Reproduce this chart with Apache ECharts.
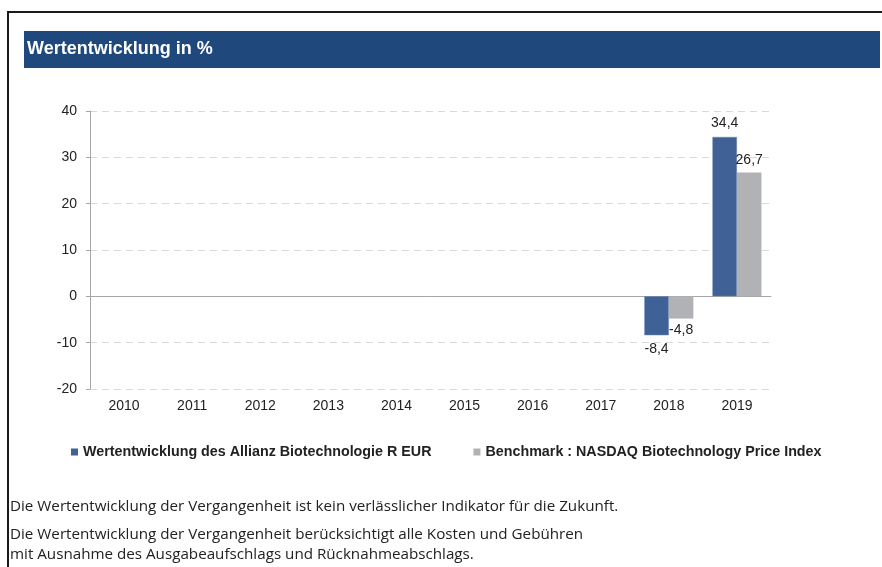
<!DOCTYPE html>
<html>
<head>
<meta charset="utf-8">
<script src="https://cdn.jsdelivr.net/npm/echarts@6/dist/echarts.min.js"></script>
<style>
  html, body { margin: 0; padding: 0; background: #fff; }
  #box { width: 882px; height: 567px; }
</style>
</head>
<body>
<div id="box"></div>
<script>
var myChart = echarts.init(document.getElementById("box"));

// Jahre und Werte (in %)
var years = ['2010', '2011', '2012', '2013', '2014', '2015', '2016', '2017', '2018', '2019'];
var fundValues = [null, null, null, null, null, null, null, null, -8.4, 34.4];
var benchValues = [null, null, null, null, null, null, null, null, -4.8, 26.7];
var fundName = 'Wertentwicklung des Allianz Biotechnologie R EUR';
var benchName = 'Benchmark : NASDAQ Biotechnology Price Index';
var footLines = [
  'Die Wertentwicklung der Vergangenheit ist kein verlässlicher Indikator für die Zukunft.',
  'Die Wertentwicklung der Vergangenheit berücksichtigt alle Kosten und Gebühren',
  'mit Ausnahme des Ausgabeaufschlags und Rücknahmeabschlags.'
];

var FONT = '"Liberation Sans", Arial, sans-serif';

// Label oben bei positiven, unten bei negativen Werten
function toItems(arr) {
  return arr.map(function (v) {
    if (v == null) return null;
    return { value: v, label: { position: v < 0 ? 'bottom' : 'top' } };
  });
}
function fmt(p) {
  return String(p.value).replace('.', ',');
}

var option = {
  animation: false,
  legend: {
    left: 66,
    top: 440,
    icon: 'rect',
    itemWidth: 7,
    itemHeight: 7,
    itemGap: 42,
    itemStyle: { borderWidth: 0 },
    textStyle: { fontFamily: FONT, fontWeight: 'bold', fontSize: 14.3, color: '#222' },
    data: [fundName, benchName]
  },
  grid: { left: 90, right: 111, top: 111, bottom: 178 },
  xAxis: [{
    type: 'category',
    data: years,
    axisLine: { onZero: true, lineStyle: { color: '#a6a6a6' } },
    axisTick: { length: 5, lineStyle: { color: '#a6a6a6' } },
    axisLabel: { show: false }
  }, {
    type: 'category',
    data: years,
    position: 'bottom',
    axisLine: { show: false, onZero: false },
    axisTick: { show: false },
    axisLabel: { margin: 10, fontFamily: FONT, fontSize: 14, color: '#222' }
  }],
  yAxis: {
    type: 'value',
    min: -20,
    max: 40,
    interval: 10,
    axisLine: { show: true, lineStyle: { color: '#a6a6a6' } },
    axisTick: { show: true, length: 4, lineStyle: { color: '#a6a6a6' } },
    axisLabel: { margin: 13, fontFamily: FONT, fontSize: 14, color: '#222' },
    splitLine: { lineStyle: { color: '#d9d9d9', type: [7, 5] } }
  },
  series: [{
    name: fundName,
    type: 'bar',
    barGap: 0,
    barCategoryGap: '28%',
    itemStyle: { color: '#3f6195', borderColor: '#6d89b5', borderWidth: 0.5 },
    label: { show: true, distance: 7, formatter: fmt, fontFamily: FONT, fontSize: 14, color: '#222' },
    data: toItems(fundValues)
  }, {
    name: benchName,
    type: 'bar',
    itemStyle: { color: '#b1b2b6' },
    label: { show: true, distance: 5, formatter: fmt, fontFamily: FONT, fontSize: 14, color: '#222' },
    data: toItems(benchValues)
  }],
  graphic: [
    { type: 'rect', shape: { x: 8, y: 12, width: 900, height: 600 }, style: { fill: 'none', stroke: '#1a1a1a', lineWidth: 2 }, z: -1 },
    { type: 'rect', shape: { x: 24, y: 31, width: 856, height: 37 }, style: { fill: '#1f497d' } },
    { type: 'text', x: 27, y: 49, style: { text: 'Wertentwicklung in %', fill: '#fff', font: 'bold 18px "Liberation Sans", Arial', textVerticalAlign: 'middle' } },
    { type: 'text', x: 10, y: 507, style: { text: footLines[0], fill: '#222', font: '15.2px "Open Sans"', textVerticalAlign: 'middle' } },
    { type: 'text', x: 10, y: 535, style: { text: footLines[1], fill: '#222', font: '15.2px "Open Sans"', textVerticalAlign: 'middle' } },
    { type: 'text', x: 10, y: 555, style: { text: footLines[2], fill: '#222', font: '15.2px "Open Sans"', textVerticalAlign: 'middle' } }
  ]
};
myChart.setOption(option);
</script>
</body>
</html>
